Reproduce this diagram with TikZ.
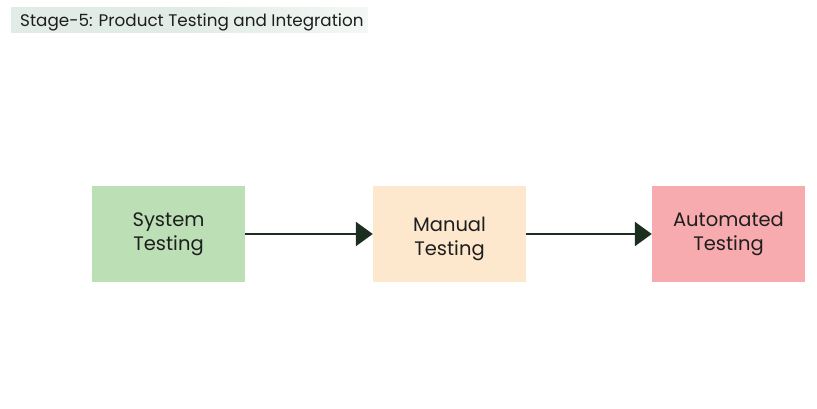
\documentclass[tikz,border=0pt]{standalone}
\usepackage{fontspec}
\setmainfont{Poppins}
\usetikzlibrary{arrows.meta}
\definecolor{boxgreen}{HTML}{BCDFB6}
\definecolor{boxpeach}{HTML}{FDE8CD}
\definecolor{boxpink}{HTML}{F7ABAE}
\definecolor{arrowcol}{HTML}{1B2E20}
\definecolor{bannercol}{HTML}{E2ECE6}
\definecolor{txtcol}{HTML}{1E1E1E}
\tikzset{
  stagebox/.style={minimum width=153pt, minimum height=96pt, inner sep=0pt},
  stagetext/.style={inner sep=0pt, align=center, font=\fontsize{19.5}{23.5}\selectfont, text=txtcol},
  flow/.style={draw=arrowcol, line width=2.6pt, -{Triangle[length=17pt,width=24pt]}}
}
\begin{document}
\begin{tikzpicture}[x=1pt,y=-1pt]
\useasboundingbox (0,0) rectangle (817,408);
\fill[left color=bannercol, right color=bannercol!40!white, middle color=bannercol] (11,7) rectangle (368,32);
\node[anchor=base west, inner sep=0pt, text=txtcol, font=\fontsize{16.8}{19}\selectfont] (title) at (20,26) {Stage-5: Product Testing and Integration};
\node[stagebox, fill=boxgreen, label={[stagetext]center:System\\Testing}] (sys) at (168.5,234) {};
\node[stagebox, fill=boxpeach, label={[stagetext,yshift=-5pt]center:Manual\\Testing}] (man) at (449.5,234) {};
\node[stagebox, fill=boxpink, label={[stagetext]center:Automated\\Testing}] (aut) at (728.5,234) {};
\draw[flow] (sys.east) -- (man.west);
\draw[flow] (man.east) -- (aut.west);
\end{tikzpicture}
\end{document}
